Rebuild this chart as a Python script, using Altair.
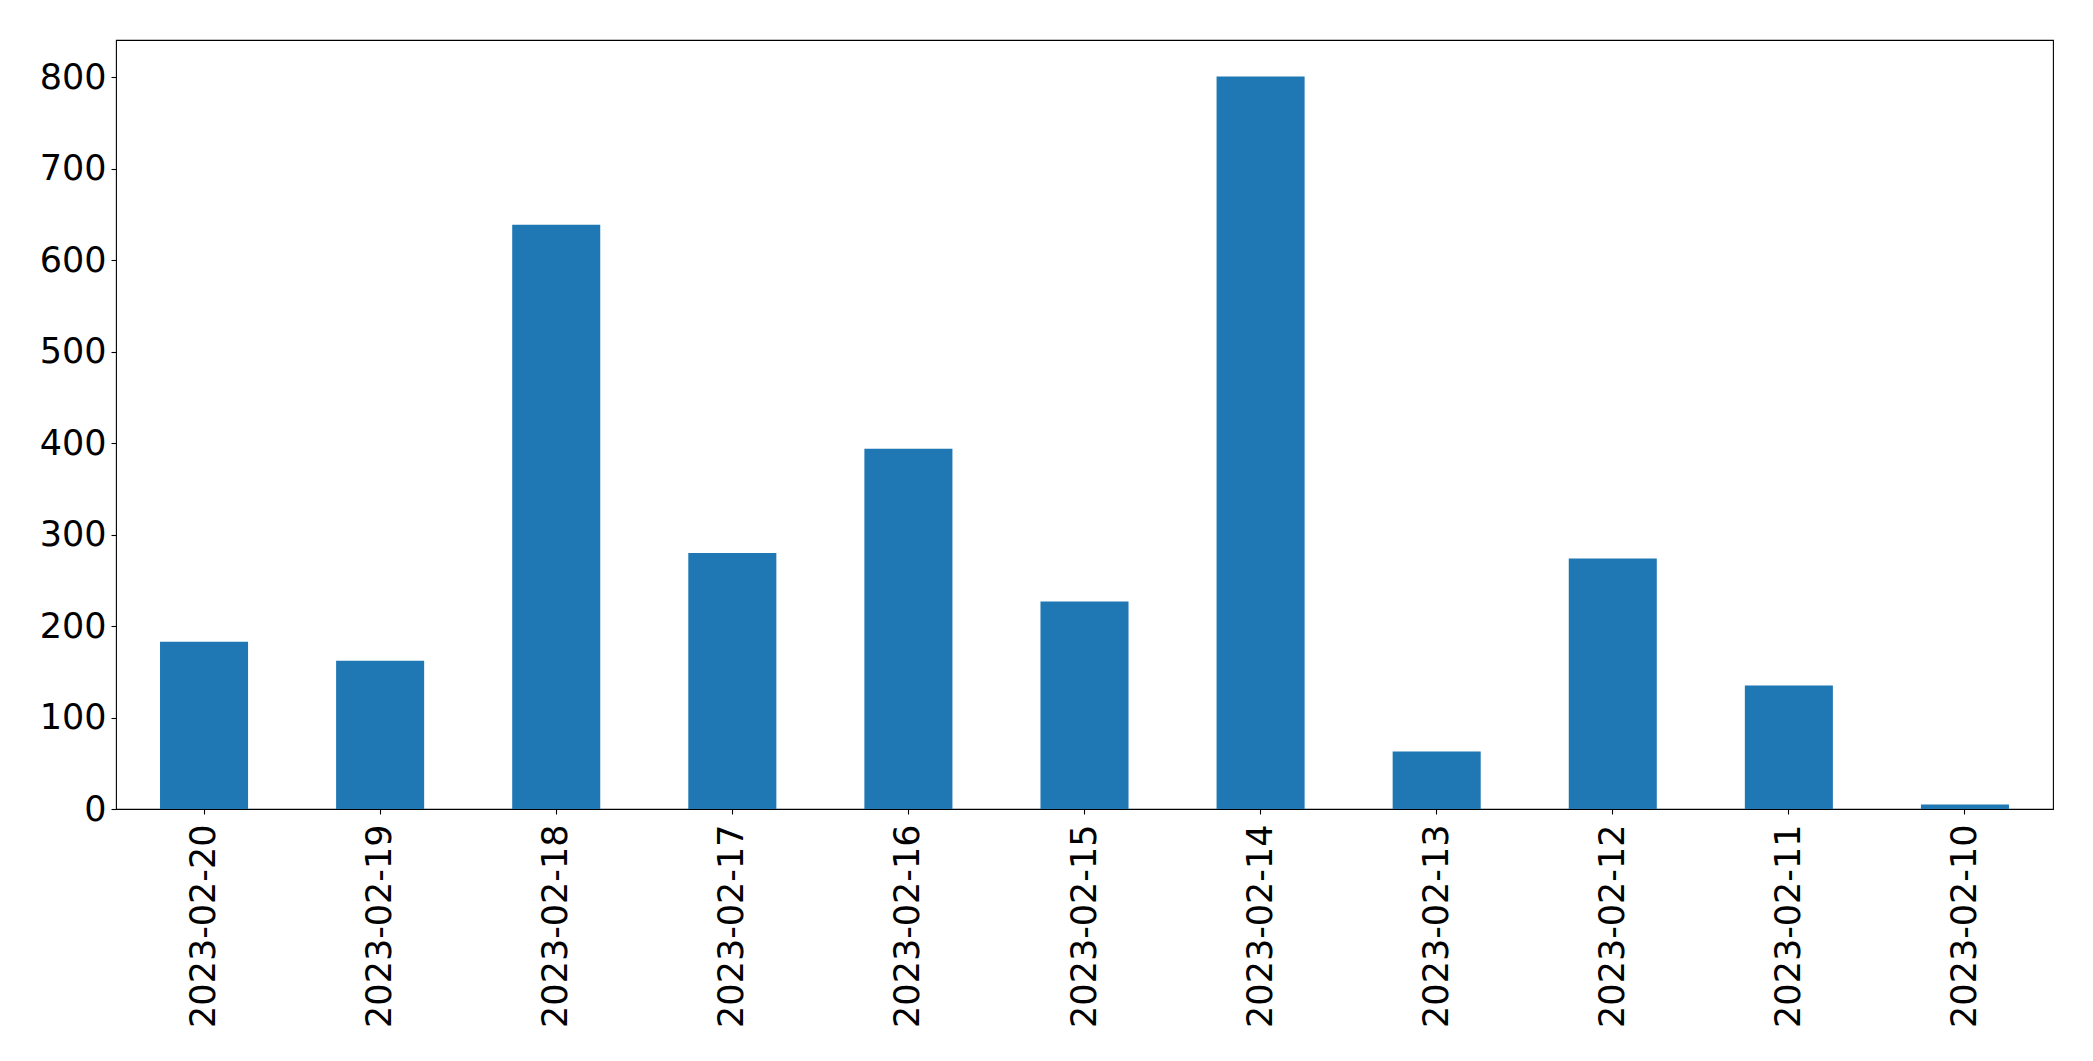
import altair as alt
import pandas as pd

dates = ["2023-02-20", "2023-02-19", "2023-02-18", "2023-02-17", "2023-02-16",
         "2023-02-15", "2023-02-14", "2023-02-13", "2023-02-12", "2023-02-11",
         "2023-02-10"]
counts = [183, 162, 639, 280, 394, 227, 801, 63, 274, 135, 5]
y_ticks = [0, 100, 200, 300, 400, 500, 600, 700, 800]

df = pd.DataFrame({"date": dates, "count": counts})

font = "DejaVu Sans"

chart = alt.Chart(df).mark_bar(color="#1f77b4").encode(
    x=alt.X(
        "date:N",
        sort=dates,
        title=None,
        scale=alt.Scale(paddingInner=0.5, paddingOuter=0.25),
        axis=alt.Axis(
            labelAngle=-90, labelFontSize=35, labelFont=font, labelColor="black",
            tickColor="black", tickSize=5, tickWidth=1.1, labelPadding=10,
            labelLimit=0, domain=False, grid=False,
        ),
    ),
    y=alt.Y(
        "count:Q",
        title=None,
        scale=alt.Scale(domain=[0, 841], nice=False, zero=True),
        axis=alt.Axis(
            values=y_ticks, labelFontSize=35, labelFont=font, labelColor="black",
            tickColor="black", tickSize=5, tickWidth=1.1, labelPadding=5,
            labelLimit=0, domain=False, grid=False,
        ),
    ),
).properties(
    width=1937,
    height=769,
    autosize=alt.AutoSizeParams(type="none"),
    padding={"left": 108, "top": 32, "right": 32, "bottom": 240},
    background="white",
).configure_view(stroke="black", strokeWidth=1.1)

chart.save("out.html", embed_options={"renderer": "svg", "actions": False})
